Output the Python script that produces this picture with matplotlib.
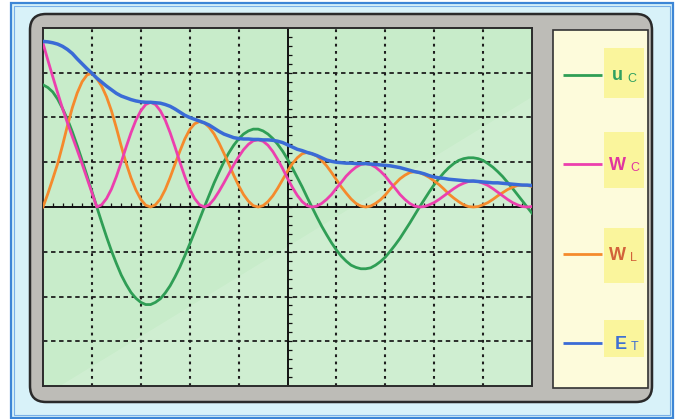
import numpy as np
import matplotlib.pyplot as plt
from matplotlib.patches import FancyBboxPatch, Rectangle, Polygon

plt.rcParams["lines.scale_dashes"] = False
plt.rcParams["font.family"] = ["Liberation Sans", "DejaVu Sans"]

GREEN = "#2f9e55"
PINK = "#ec3fae"
ORANGE = "#f58a2c"
BLUE = "#3a6bd6"
SCREEN = "#c8ecca"

# readings every 0.1 screen division (10 divisions across, 8 high)
t = np.arange(101) / 10

u_c = [2.73, 2.67, 2.57, 2.41, 2.20, 1.96, 1.68, 1.37, 1.04, 0.70,
       0.35, 0.00, -0.34, -0.67, -0.98, -1.26, -1.52, -1.73, -1.91, -2.04,
       -2.13, -2.18, -2.18, -2.13, -2.05, -1.92, -1.76, -1.56, -1.34, -1.09,
       -0.83, -0.56, -0.28, 0.00, 0.27, 0.54, 0.78, 1.01, 1.21, 1.38,
       1.52, 1.63, 1.70, 1.74, 1.74, 1.70, 1.63, 1.53, 1.40, 1.25,
       1.07, 0.87, 0.66, 0.45, 0.22, 0.00, -0.22, -0.43, -0.62, -0.80,
       -0.96, -1.10, -1.21, -1.30, -1.35, -1.38, -1.38, -1.36, -1.30, -1.22,
       -1.12, -0.99, -0.85, -0.70, -0.53, -0.36, -0.18, 0.00, 0.17, 0.34,
       0.50, 0.64, 0.77, 0.88, 0.97, 1.04, 1.08, 1.10, 1.10, 1.08,
       1.04, 0.97, 0.89, 0.79, 0.68, 0.55, 0.42, 0.28, 0.14, 0.00,
       -0.14]

w_c = [3.66, 3.28, 2.91, 2.55, 2.20, 1.88, 1.57, 1.27, 0.96, 0.64,
       0.32, 0.00, 0.05, 0.19, 0.40, 0.68, 1.00, 1.34, 1.66, 1.94,
       2.15, 2.29, 2.34, 2.29, 2.15, 1.94, 1.66, 1.34, 1.00, 0.68,
       0.40, 0.19, 0.05, 0.00, 0.05, 0.18, 0.35, 0.54, 0.74, 0.94,
       1.12, 1.28, 1.40, 1.48, 1.50, 1.47, 1.38, 1.24, 1.06, 0.86,
       0.64, 0.44, 0.26, 0.12, 0.03, 0.00, 0.02, 0.08, 0.17, 0.28,
       0.42, 0.55, 0.69, 0.80, 0.89, 0.95, 0.97, 0.95, 0.89, 0.80,
       0.69, 0.55, 0.42, 0.28, 0.17, 0.08, 0.02, 0.00, 0.01, 0.05,
       0.10, 0.17, 0.25, 0.33, 0.41, 0.48, 0.53, 0.57, 0.58, 0.57,
       0.53, 0.48, 0.41, 0.33, 0.25, 0.17, 0.10, 0.05, 0.01, 0.00,
       0.01]

w_l = [0.00, 0.30, 0.63, 0.97, 1.38, 1.82, 2.22, 2.55, 2.80, 2.95,
       2.99, 2.87, 2.70, 2.46, 2.15, 1.77, 1.36, 0.98, 0.65, 0.38,
       0.17, 0.04, 0.00, 0.05, 0.18, 0.39, 0.66, 0.96, 1.25, 1.52,
       1.73, 1.86, 1.91, 1.88, 1.78, 1.63, 1.43, 1.20, 0.96, 0.71,
       0.48, 0.28, 0.13, 0.03, 0.00, 0.03, 0.12, 0.25, 0.42, 0.61,
       0.80, 0.97, 1.10, 1.19, 1.22, 1.19, 1.14, 1.04, 0.92, 0.77,
       0.61, 0.45, 0.31, 0.18, 0.08, 0.02, 0.00, 0.02, 0.08, 0.16,
       0.27, 0.40, 0.52, 0.63, 0.71, 0.77, 0.79, 0.77, 0.72, 0.66,
       0.58, 0.50, 0.40, 0.29, 0.20, 0.12, 0.05, 0.01, 0.00, 0.01,
       0.05, 0.10, 0.17, 0.25, 0.32, 0.39, 0.44, 0.48, 0.49, 0.48,
       0.46]

e_t = [3.70, 3.69, 3.67, 3.64, 3.59, 3.52, 3.43, 3.31, 3.20, 3.09,
       2.99, 2.88, 2.79, 2.70, 2.62, 2.54, 2.48, 2.44, 2.40, 2.37,
       2.35, 2.34, 2.34, 2.33, 2.32, 2.29, 2.25, 2.19, 2.12, 2.05,
       2.00, 1.96, 1.92, 1.88, 1.83, 1.76, 1.69, 1.63, 1.59, 1.55,
       1.53, 1.52, 1.52, 1.51, 1.51, 1.50, 1.50, 1.49, 1.47, 1.44,
       1.39, 1.34, 1.29, 1.26, 1.22, 1.19, 1.15, 1.10, 1.05, 1.02,
       1.00, 0.99, 0.98, 0.98, 0.97, 0.97, 0.97, 0.96, 0.95, 0.94,
       0.93, 0.92, 0.90, 0.88, 0.85, 0.82, 0.79, 0.77, 0.74, 0.70,
       0.67, 0.65, 0.64, 0.62, 0.61, 0.60, 0.59, 0.58, 0.58, 0.57,
       0.56, 0.55, 0.54, 0.54, 0.53, 0.52, 0.51, 0.50, 0.49, 0.49,
       0.48]

labels = [("u", "C"), ("W", "C"), ("W", "L"), ("E", "T")]
line_colors = [GREEN, PINK, ORANGE, BLUE]
label_colors = ["#2fa060", "#e0359f", "#d2623a", "#3f70d2"]

fig = plt.figure(figsize=(6.78, 4.19), dpi=100)
fig.patch.set_facecolor("white")

# frame, bezel and legend panel in pixel coordinates
bg = fig.add_axes([0, 0, 1, 1])
bg.set_xlim(0, 678)
bg.set_ylim(419, 0)
bg.axis("off")
bg.add_patch(Rectangle((11, 3), 662, 415, fc="#d8f2f9", ec="#3d86d6", lw=1.6))
bg.add_patch(Rectangle((14, 6), 656, 409, fc="none", ec="#79b0e8", lw=0.8))
bg.add_patch(FancyBboxPatch((30, 14), 622, 388,
                            boxstyle="round,pad=0,rounding_size=16",
                            fc="#bdbcb7", ec="#2a2a2a", lw=1.8))
bg.add_patch(Rectangle((553, 30), 95, 358, fc="#fdfbdb", ec="#333333", lw=1.2))

# legend
rows_y = [75, 164, 254, 343]
boxes = [(48, 98), (132, 188), (228, 283), (320, 357)]
main_x = [612, 609, 609, 615]
sub_x = [627, 630, 630, 631]
for i, ((main, sub), lc, tc) in enumerate(zip(labels, line_colors, label_colors)):
    y = rows_y[i]
    b0, b1 = boxes[i]
    bg.add_patch(Rectangle((604, b0), 40, b1 - b0, fc="#faf59c", ec="none"))
    bg.plot([563, 602], [y, y], color=lc, lw=2.0, solid_capstyle="butt")
    bg.text(main_x[i], y + 1, main, color=tc, fontsize=13, fontweight="bold",
            ha="left", va="center")
    bg.text(sub_x[i], y + 4, sub, color=tc, fontsize=9, ha="left", va="center")

# screen
ax = fig.add_axes([43 / 678, 1 - 386 / 419, 489 / 678, 358 / 419])
ax.set_facecolor(SCREEN)
ax.set_xlim(0, 10)
ax.set_ylim(-4, 4)
ax.set_xticks([])
ax.set_yticks([])
for s in ax.spines.values():
    s.set_color("#2b2b2b")
    s.set_linewidth(1.4)

ax.add_patch(Polygon([(0.35, -4), (10, -4), (10, 2.45)], closed=True,
                     fc="white", alpha=0.14, lw=0, zorder=0.5))

for xv in range(1, 10):
    if xv != 5:
        ax.axvline(xv, color="#1e1e1e", lw=1.5, ls=(0, (2.0, 3.2)), zorder=1)
for yv in (-3, -2, -1, 1, 2, 3):
    ax.axhline(yv, color="#1e1e1e", lw=1.3, ls=(0, (3.2, 2.6)), zorder=1)
ax.axvline(5, color="#111111", lw=1.4, zorder=1.5)
ax.axhline(0, color="#111111", lw=1.4, zorder=1.5)
ax.vlines(np.arange(1, 50) / 5, 0, 0.09, color="#111111", lw=0.9, zorder=1.5)
ax.hlines(np.arange(-19, 20) / 5, 5, 5.1, color="#111111", lw=0.9, zorder=1.5)

ax.plot(t, u_c, color=GREEN, lw=2.0, zorder=3)
ax.plot(t, w_l, color=ORANGE, lw=2.0, zorder=3)
ax.plot(t, w_c, color=PINK, lw=2.0, zorder=3)
ax.plot(t, e_t, color=BLUE, lw=2.5, zorder=4)

fig.savefig("out.png", dpi=100)
